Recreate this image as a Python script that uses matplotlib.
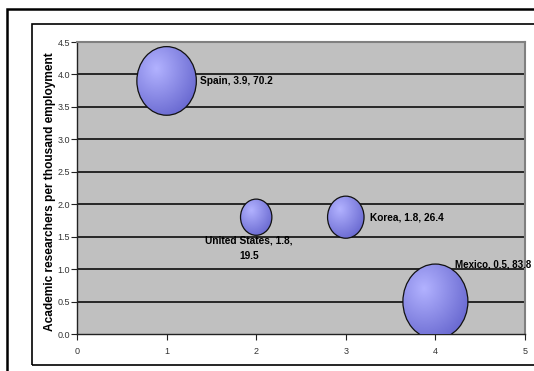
import numpy as np
import matplotlib
matplotlib.use('Agg')
import matplotlib.pyplot as plt
from matplotlib.patches import Ellipse, Rectangle

# Data
countries = ['Spain', 'United States', 'Korea', 'Mexico']
x_pos = [1, 2, 3, 4]
researchers = [3.9, 1.8, 1.8, 0.5]
bubble_size = [70.2, 19.5, 26.4, 83.8]
y_ticks = [0.0, 0.5, 1.0, 1.5, 2.0, 2.5, 3.0, 3.5, 4.0, 4.5]
x_ticks = [0, 1, 2, 3, 4, 5]

plt.rcParams['font.family'] = ['Liberation Sans', 'DejaVu Sans']

W, H = 534, 371
fig = plt.figure(figsize=(W / 100, H / 100), dpi=100)

# Outer and inner frames (chart area borders)
fig.patches.append(Rectangle((7 / W, -0.1), 1.2, 1 - 9 / H + 0.1, transform=fig.transFigure,
                             fill=False, lw=1.8, ec='black'))
fig.patches.append(Rectangle((32 / W, 1 - 365 / H), 1.2, (365 - 24) / H, transform=fig.transFigure,
                             fill=False, lw=1.2, ec='black'))

# Plot area
ax = fig.add_axes([77 / W, 1 - 334 / H, 448 / W, 292 / H])
ax.set_facecolor('#c0c0c0')
ax.set_xlim(0, 5)
ax.set_ylim(0, 4.5)

for y in y_ticks[1:-1]:
    ax.axhline(y, color='#1a1a1a', lw=1.3, zorder=1)

# Bubble sizes: area proportional to size, largest ~65 px wide / 75 px tall
px_x = 448 / 5
px_y = 292 / 4.5
max_w_px, max_h_px = 65, 75
smax = max(bubble_size)

yy, xx = np.mgrid[1:-1:200j, -1:1:200j]
for xv, yv, s in zip(x_pos, researchers, bubble_size):
    f = np.sqrt(s / smax)
    w = max_w_px * f / px_x
    h = max_h_px * f / px_y
    # radial gradient with highlight to the upper left
    d = np.sqrt((xx + 0.35) ** 2 + (yy - 0.35) ** 2) / 1.6
    d = np.clip(d, 0, 1)
    light = np.array([178, 178, 255]) / 255
    dark = np.array([100, 100, 205]) / 255
    img = light[None, None, :] * (1 - d[..., None]) + dark[None, None, :] * d[..., None]
    ell = Ellipse((xv, yv), w, h, fc='none', ec='#111111', lw=0.9, zorder=4)
    ax.add_patch(ell)
    im = ax.imshow(img, extent=[xv - w / 2, xv + w / 2, yv - h / 2, yv + h / 2],
                   aspect='auto', zorder=3, interpolation='bilinear')
    im.set_clip_path(ell)

ax.set_xlim(0, 5)
ax.set_ylim(0, 4.5)

# Data labels
lab_kw = dict(textcoords='offset pixels', fontweight='bold', color='black',
              zorder=6, annotation_clip=False)
ax.annotate('%s, %s, %s' % (countries[0], researchers[0], bubble_size[0]),
            (x_pos[0], researchers[0]), xytext=(33, 0), ha='left', va='center',
            fontsize=7.3, **lab_kw)
ax.annotate('%s, %s,\n%s' % (countries[1], researchers[1], bubble_size[1]),
            (x_pos[1], researchers[1]), xytext=(-7, -18), ha='center', va='top',
            linespacing=1.7, fontsize=7.3, **lab_kw)
ax.annotate('%s, %s, %s' % (countries[2], researchers[2], bubble_size[2]),
            (x_pos[2], researchers[2]), xytext=(24, 0), ha='left', va='center',
            fontsize=7.3, **lab_kw)
ax.annotate('%s, %s, %s' % (countries[3], researchers[3], bubble_size[3]),
            (x_pos[3], researchers[3]), xytext=(20, 37), ha='left', va='center',
            fontsize=7.0, **lab_kw)

# Axes styling
ax.set_yticks(y_ticks)
ax.set_yticklabels(['%.1f' % v for v in y_ticks])
ax.set_xticks(x_ticks)
ax.set_xticklabels([str(v) for v in x_ticks])
ax.tick_params(axis='both', direction='out', length=4, width=0.8, labelsize=6.5,
               labelcolor='#333333', color='#222222')
ax.tick_params(axis='y', pad=1)
ax.tick_params(axis='x', pad=5)

for side in ['left', 'bottom']:
    ax.spines[side].set_color('#222222')
    ax.spines[side].set_linewidth(1.0)
for side in ['top', 'right']:
    ax.spines[side].set_color('#808080')
    ax.spines[side].set_linewidth(1.5)

fig.text(50 / W, 1 - 192 / H, 'Academic researchers per thousand employment', rotation=90,
         ha='center', va='center', fontsize=8.6, fontweight='bold')

fig.savefig('out.png', dpi=100)
